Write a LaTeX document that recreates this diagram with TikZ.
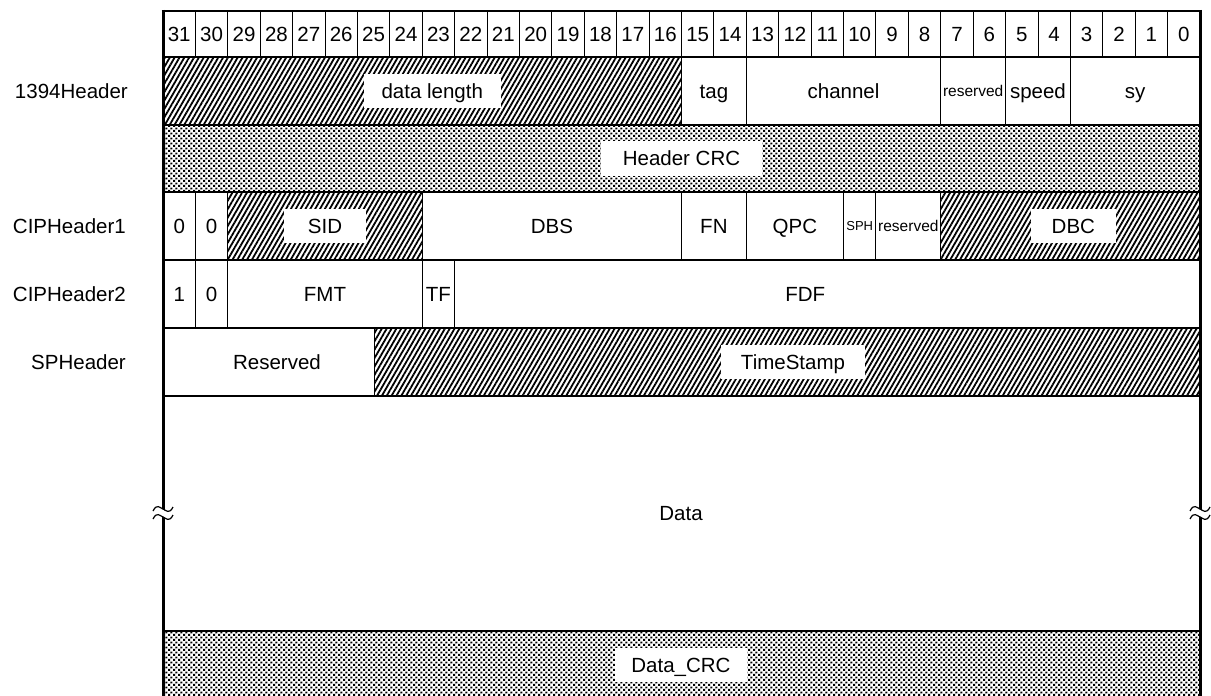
\documentclass[tikz,border=0pt]{standalone}
\usepackage{fontspec}
\setmainfont{Liberation Sans}
\usetikzlibrary{patterns,patterns.meta}
\pgfdeclarepatternformonly{crcdots}{\pgfqpoint{0pt}{0pt}}{\pgfqpoint{4.8pt}{4.8pt}}{\pgfqpoint{4.8pt}{4.8pt}}{%
  \pgfpathrectangle{\pgfqpoint{0.2pt}{0.2pt}}{\pgfqpoint{2pt}{2pt}}%
  \pgfpathrectangle{\pgfqpoint{2.6pt}{2.6pt}}{\pgfqpoint{2pt}{2pt}}%
  \pgfusepath{fill}}
\newcommand\bitL[1]{(163+(31-#1)*32.40625)}
\newcommand\bitR[1]{(163+(32-#1)*32.40625)}
\newcommand\bitC[2]{(163+(63-#1-#2)*16.203125)}
\newcommand\fieldbox[8]{%
  \path[cell,#6] ({\bitL{#2}},#4) rectangle ({\bitR{#3}},#5);
  \node[#7] (#1) at ({\bitC{#2}{#3}},{(#4+#5)/2}) {#8};}
\tikzset{brk/.pic={
  \draw[white,line width=6pt] (-10,2) .. controls (-6,-6) and (-3,-1) .. (0,0) .. controls (3,1) and (6,6) .. (10,-2);
  \draw[line width=1.2pt] (-10,-2) .. controls (-6,-10) and (-3,-5) .. (0,-4) .. controls (3,-3) and (6,2) .. (10,-6);
  \draw[line width=1.2pt] (-10,6) .. controls (-6,-2) and (-3,3) .. (0,4) .. controls (3,5) and (6,10) .. (10,2);
}}
\begin{document}
\begin{tikzpicture}[x=1pt,y=-1pt,
  every node/.style={font=\fontsize{20.5}{24}\selectfont,inner sep=0pt,text height=14.7pt,text depth=0pt},
  cell/.style={draw=black,line width=0.9pt},
  hatch/.style={pattern={Lines[angle=60,distance=4.2pt,line width=1.8pt]}},
  crc/.style={pattern=crcdots},
  whitelbl/.style={fill=white,inner xsep=18pt,inner ysep=10pt},
  smalltxt/.style={font=\fontsize{15.5}{17}\selectfont,text height=11.1pt},
  tinytxt/.style={font=\fontsize{13}{15}\selectfont,text height=9.4pt},
  rowlbl/.style={anchor=east},
  sep/.style={line width=1.6pt},
  frame/.style={line width=3pt}]
\clip (0,0) rectangle (1211,696);
\fill[white] (0,0) rectangle (1211,696);
% bit numbers
\foreach \b in {0,...,31}{
  \path[cell] ({\bitL{\b}},11) rectangle ({\bitR{\b}},57);
  \node (bit\b) at ({\bitC{\b}{\b}},34) {\b};
}
% row 1
\fieldbox{dlen}{31}{16}{57}{125}{hatch}{whitelbl,xshift=10pt}{data length}
\fieldbox{tag}{15}{14}{57}{125}{}{}{tag}
\fieldbox{chan}{13}{8}{57}{125}{}{}{channel}
\fieldbox{rsvA}{7}{6}{57}{125}{}{smalltxt}{reserved}
\fieldbox{speed}{5}{4}{57}{125}{}{}{speed}
\fieldbox{sy}{3}{0}{57}{125}{}{}{sy}
% row 2
\fieldbox{hcrc}{31}{0}{125}{192}{crc}{whitelbl,inner xsep=22pt}{Header CRC}
% row 3
\fieldbox{ca}{31}{31}{192}{260}{}{}{0}
\fieldbox{cb}{30}{30}{192}{260}{}{}{0}
\fieldbox{sid}{29}{24}{192}{260}{hatch}{whitelbl,inner xsep=24pt}{SID}
\fieldbox{dbs}{23}{16}{192}{260}{}{}{DBS}
\fieldbox{fn}{15}{14}{192}{260}{}{}{FN}
\fieldbox{qpc}{13}{11}{192}{260}{}{}{QPC}
\fieldbox{sph}{10}{10}{192}{260}{}{tinytxt}{SPH}
\fieldbox{rsvB}{9}{8}{192}{260}{}{smalltxt}{reserved}
\fieldbox{dbc}{7}{0}{192}{260}{hatch}{whitelbl,inner xsep=21pt,xshift=3pt}{DBC}
% row 4
\fieldbox{cc}{31}{31}{260}{328}{}{}{1}
\fieldbox{cd}{30}{30}{260}{328}{}{}{0}
\fieldbox{fmt}{29}{24}{260}{328}{}{}{FMT}
\fieldbox{tf}{23}{23}{260}{328}{}{}{TF}
\fieldbox{fdf}{22}{0}{260}{328}{}{xshift=-22pt}{FDF}
% row 5
\path[cell] (163,328) rectangle (374,396);
\node (sprsv) at (277,362) {Reserved};
\path[cell,hatch] (374,328) rectangle (1200,396);
\node[whitelbl,inner xsep=20pt] (ts) at (793,362) {TimeStamp};
% row 6 and 7
\path[cell] (163,396) rectangle (1200,631);
\node (data) at (681,513) {Data};
\path[cell,crc] (163,631) rectangle (1200,720);
\node[whitelbl,inner xsep=16pt] (dcrc) at (681,665) {Data\_CRC};
% separators and frame
\foreach \yy in {57,125,192,260,328,396,631} \draw[sep] (163,\yy) -- (1200,\yy);
\draw[line width=2.5pt] (161.5,11) -- (1201.5,11);
\draw[frame] (163,9.8) -- (163,700);
\draw[frame] (1200,9.8) -- (1200,700);
% break marks
\coordinate (brkL) at (163,513);
\coordinate (brkR) at (1200,513);
\pic at (brkL) {brk};
\pic at (brkR) {brk};
% row labels
\node[rowlbl] (l1394) at (128,91) {1394Header};
\node[rowlbl] (lcip1) at (126,226) {CIPHeader1};
\node[rowlbl] (lcip2) at (126,294) {CIPHeader2};
\node[rowlbl] (lsp) at (126,362) {SPHeader};
\end{tikzpicture}
\end{document}
